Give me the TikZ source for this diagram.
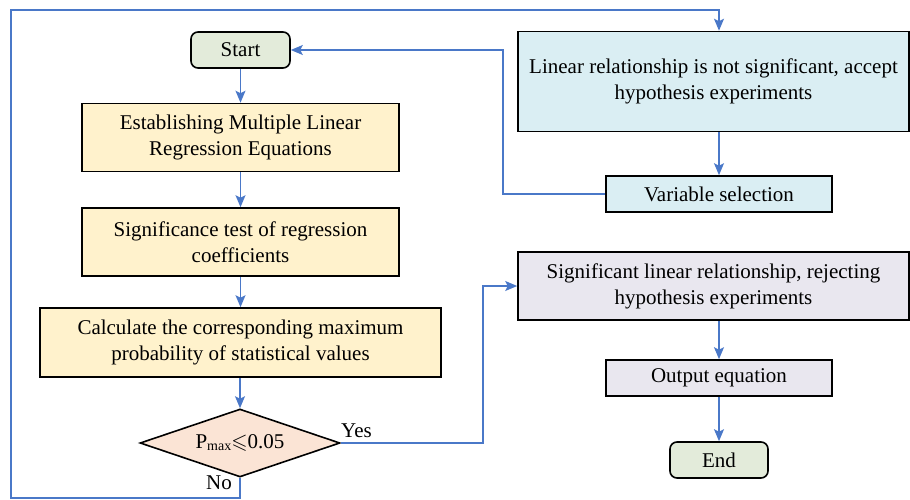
\documentclass[tikz,border=0pt]{standalone}
\usepackage{amssymb}
\usepackage{fontspec}
\setmainfont{Liberation Serif}
\usetikzlibrary{arrows.meta,shapes.geometric}
\definecolor{lineblue}{HTML}{4A78C8}
\definecolor{fillgreen}{HTML}{E3EBDA}
\definecolor{fillyellow}{HTML}{FFF2CC}
\definecolor{fillblue}{HTML}{DAEEF3}
\definecolor{filllav}{HTML}{E9E7EF}
\definecolor{fillpeach}{HTML}{FBE4D5}
\tikzset{
  base/.style={draw=black, line width=1.6pt, align=center, inner sep=0pt,
    font=\fontsize{21}{26}\selectfont},
  term/.style={base, rounded corners=7pt, fill=fillgreen, minimum width=99pt, minimum height=36pt},
  procy/.style={base, fill=fillyellow, minimum height=68pt},
  procb/.style={base, fill=fillblue},
  procl/.style={base, fill=filllav},
  decision/.style={base, shape=diamond, aspect=2.94, fill=fillpeach, minimum width=200pt, minimum height=68pt},
  conn/.style={draw=lineblue, line width=1.5pt},
  arr/.style={conn, -{Stealth[length=12pt,width=10pt,inset=2.5pt]}},
  lbl/.style={font=\fontsize{21}{24}\selectfont, inner sep=0pt}
}
\begin{document}
\begin{tikzpicture}[x=1pt,y=-1pt]
\useasboundingbox (0,0) rectangle (910,500);
% left column
\node[term] (start) at (240.5,50) {Start};
\node[procy, minimum width=317pt] (b1) at (240.5,137.5) {Establishing Multiple Linear\\Regression Equations};
\node[procy, minimum width=317pt] (b2) at (240.5,242) {Significance test of regression\\coefficients};
\node[procy, minimum width=401pt, minimum height=69pt] (b3) at (240.5,342.5) {Calculate the corresponding maximum\\probability of statistical values};
\node[decision] (dia) at (240,443) {P\raisebox{-2pt}{\fontsize{14}{14}\selectfont max}$\leqslant$0.05};
% right column
\node[procb, minimum width=391pt, minimum height=100pt] (A) at (713.5,81.5) {Linear relationship is not significant, accept\\hypothesis experiments};
\node[procb, minimum width=226pt, minimum height=36pt] (vs) at (719,194) {Variable selection};
\node[procl, minimum width=391pt, minimum height=68pt] (C) at (713.5,286) {Significant linear relationship, rejecting\\hypothesis experiments};
\node[procl, minimum width=226pt, minimum height=36pt] (oe) at (719,378) {Output equation};
\node[term, minimum width=98pt] (end) at (719,460) {End};
% helper coordinates
\coordinate (lt) at (11,10);
\coordinate (lb) at (11,498);
\coordinate (yesx) at (483,443);
% connectors
\draw[arr] (start) -- (b1);
\draw[arr] (b1) -- (b2);
\draw[arr] (b2) -- (b3);
\draw[arr] (b3.south -| dia.north) -- (dia.north);
\draw[arr] (dia.east) -- (yesx) |- (C.west);
\draw[arr] (dia.south) -- (dia.south |- lb) -- (lb) -- (lt) -| (vs.north |- A.north);
\draw[arr] (vs.north |- A.south) -- (vs.north);
\draw[arr] (vs.west) -| (503,50) -- (start.east);
\draw[arr] (vs.north |- C.south) -- (oe.north);
\draw[arr] (oe.south) -- (end.north);
% labels
\node[lbl, anchor=south west] (yes) at (341,438) {Yes};
\node[lbl, anchor=north east] (no) at (232,476) {No};
\end{tikzpicture}
\end{document}
